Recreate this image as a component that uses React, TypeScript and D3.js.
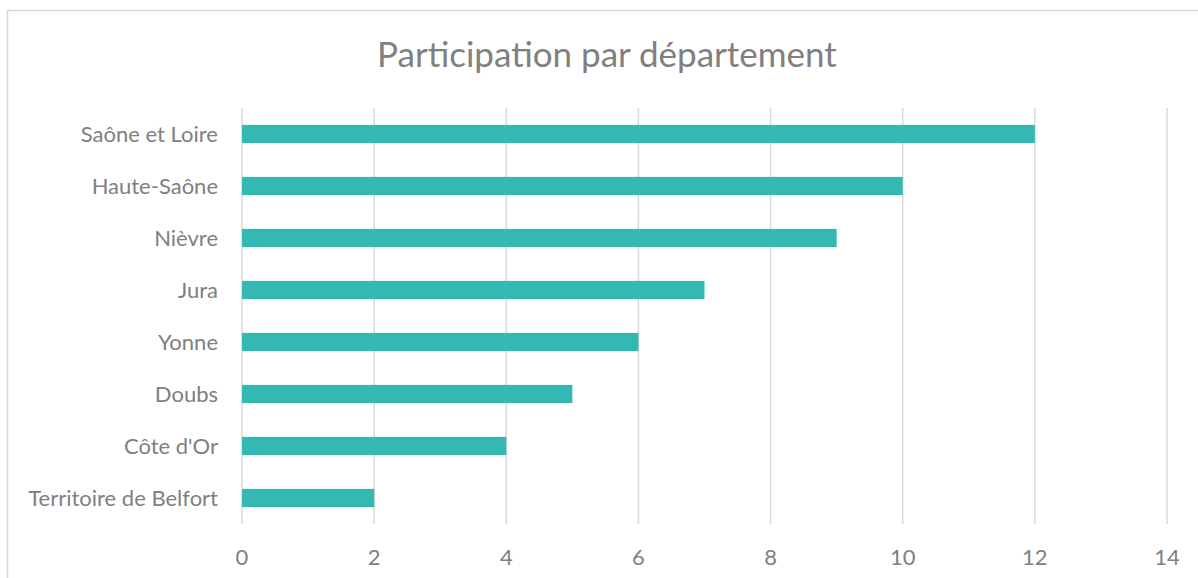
import React, { useEffect, useRef } from "react";
import * as d3 from "d3";

const departements = [
  "Saône et Loire",
  "Haute-Saône",
  "Nièvre",
  "Jura",
  "Yonne",
  "Doubs",
  "Côte d'Or",
  "Territoire de Belfort",
];
const participations = [12, 10, 9, 7, 6, 5, 4, 2];
const xTicks = [0, 2, 4, 6, 8, 10, 12, 14];

const width = 1198;
const height = 578;
const font = "Lato, 'Open Sans', sans-serif";
const textColor = "#808080";

const App = () => {
  const svgRef = useRef<SVGSVGElement>(null);

  useEffect(() => {
    const svg = d3.select(svgRef.current);
    svg.selectAll("*").remove();

    // chart frame (runs off the right / bottom edges)
    svg
      .append("rect")
      .attr("x", 7.5)
      .attr("y", 10.5)
      .attr("width", 1200)
      .attr("height", 600)
      .attr("fill", "#fff")
      .attr("stroke", "#d9d9d9")
      .attr("stroke-width", 1.5);

    svg
      .append("text")
      .attr("x", 607)
      .attr("y", 67)
      .attr("text-anchor", "middle")
      .attr("font-family", font)
      .attr("font-size", 35)
      .attr("fill", textColor)
      .text("Participation par département");

    const x = d3.scaleLinear().domain([0, 14]).range([242, 1167]);
    const y = d3
      .scaleBand()
      .domain(departements)
      .range([108, 524])
      .paddingInner(0.65)
      .paddingOuter(0.325);

    // grid lines
    svg
      .append("g")
      .selectAll("line")
      .data(xTicks)
      .enter()
      .append("line")
      .attr("x1", (d) => x(d))
      .attr("x2", (d) => x(d))
      .attr("y1", 108)
      .attr("y2", 524)
      .attr("stroke", "#d9d9d9")
      .attr("stroke-width", 1.5);

    // bars
    svg
      .append("g")
      .selectAll("rect")
      .data(participations)
      .enter()
      .append("rect")
      .attr("x", x(0))
      .attr("y", (d, i) => y(departements[i]) as number)
      .attr("width", (d) => x(d) - x(0))
      .attr("height", y.bandwidth())
      .attr("fill", "#33b8b4");

    // x tick labels
    svg
      .append("g")
      .selectAll("text")
      .data(xTicks)
      .enter()
      .append("text")
      .attr("x", (d) => x(d))
      .attr("y", 565)
      .attr("text-anchor", "middle")
      .attr("font-family", font)
      .attr("font-size", 22)
      .attr("fill", textColor)
      .text((d) => d);

    // category labels
    svg
      .append("g")
      .selectAll("text")
      .data(departements)
      .enter()
      .append("text")
      .attr("x", 218)
      .attr("y", (d) => (y(d) as number) + y.bandwidth() / 2)
      .attr("dy", "0.35em")
      .attr("text-anchor", "end")
      .attr("font-family", font)
      .attr("font-size", 22)
      .attr("fill", textColor)
      .text((d) => d);
  }, []);

  return (
    <div style={{ position: "absolute", left: 0, top: 0 }}>
      <svg ref={svgRef} width={width} height={height} style={{ display: "block" }}></svg>
    </div>
  );
};

export default App;
